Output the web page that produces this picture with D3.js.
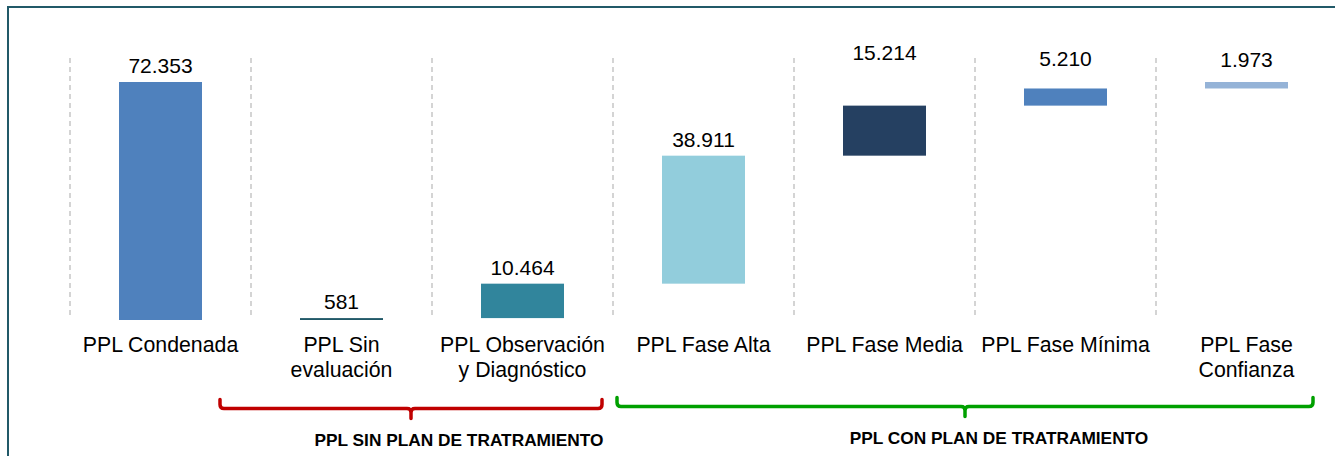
<!DOCTYPE html>
<html>
<head>
<meta charset="utf-8">
<script src="https://cdn.jsdelivr.net/npm/d3@7"></script>
<style>
  body { margin: 0; background: #fff; }
  svg { display: block; font-family: "Liberation Sans", Arial, sans-serif; }
</style>
</head>
<body>
<div id="chart"></div>
<script>
// categories (line breaks marked with \n)
var categories = ["PPL Condenada", "PPL Sin\nevaluación", "PPL Observación\ny Diagnóstico",
                  "PPL Fase Alta", "PPL Fase Media", "PPL Fase Mínima", "PPL Fase\nConfianza"];
var values = [72353, 581, 10464, 38911, 15214, 5210, 1973];
var barColors = ["#4f81bd", "#215968", "#31859c", "#92cddc", "#254061", "#4f81bd", "#95b3d7"];

// groups under the axis: first / last category index
var groupNames = ["PPL SIN PLAN DE TRATRAMIENTO", "PPL CON PLAN DE TRATRAMIENTO"];
var groupFrom = [1, 3];
var groupTo = [2, 6];
var groupColors = ["#c00000", "#00a000"];

var width = 1335, height = 456;

var svg = d3.select("#chart").append("svg")
    .attr("width", width)
    .attr("height", height);

// frame
svg.append("rect")
    .attr("x", 8).attr("y", 7)
    .attr("width", width + 20).attr("height", height + 20)
    .attr("fill", "none")
    .attr("stroke", "#215968")
    .attr("stroke-width", 2);

var x = d3.scaleBand().domain(categories).range([70, 1337]).padding(0),
    y = d3.scaleLinear().domain([0, d3.sum(values.slice(1))]).range([320, 82]);

// waterfall: first bar is the total, the rest stack up from zero
var bars = [], run = 0;
values.forEach(function(v, i) {
  if (i === 0) { bars.push({c: categories[i], v: v, y0: 0, y1: v}); }
  else { bars.push({c: categories[i], v: v, y0: run, y1: run + v}); run += v; }
});

var fmt = d3.formatLocale({decimal: ",", thousands: ".", grouping: [3], currency: ["", ""]}).format(",d");

var g = svg.append("g");

// dashed separators
g.selectAll(".sep")
    .data(categories)
    .enter().append("line")
    .attr("class", "sep")
    .attr("x1", function(d) { return x(d); })
    .attr("x2", function(d) { return x(d); })
    .attr("y1", 58).attr("y2", 318)
    .attr("stroke", "#d4d4d4")
    .attr("stroke-width", 2)
    .attr("stroke-dasharray", "5,4");

var barW = 83;

g.selectAll(".bar")
    .data(bars)
    .enter().append("rect")
    .attr("class", "bar")
    .attr("x", function(d) { return x(d.c) + (x.bandwidth() - barW) / 2; })
    .attr("y", function(d) { return y(d.y1); })
    .attr("width", barW)
    .attr("height", function(d) { return y(d.y0) - y(d.y1); })
    .attr("fill", function(d, i) { return barColors[i]; });

// value labels; the last three sit higher than their bars
var labelLift = [9, 9, 9, 9, 46, 22, 15];

g.selectAll(".val")
    .data(bars)
    .enter().append("text")
    .attr("class", "val")
    .attr("x", function(d) { return x(d.c) + x.bandwidth() / 2; })
    .attr("y", function(d, i) { return y(d.y1) - labelLift[i]; })
    .attr("text-anchor", "middle")
    .attr("font-size", 21)
    .attr("fill", "#000")
    .text(function(d) { return fmt(d.v); });

// category labels
var cat = g.selectAll(".cat")
    .data(categories)
    .enter().append("text")
    .attr("class", "cat")
    .attr("text-anchor", "middle")
    .attr("font-size", 21.3)
    .attr("fill", "#000");

cat.selectAll("tspan")
    .data(function(d) { return d.split("\n").map(function(t) { return {c: d, t: t}; }); })
    .enter().append("tspan")
    .attr("x", function(d) { return x(d.c) + x.bandwidth() / 2; })
    .attr("y", function(d, i) { return 352 + i * 25; })
    .text(function(d) { return d.t; });

// group braces
var braceStart = [-31, 4], braceEnd = [-11, -24];
var braceY = [408.5, 406.5];

groupNames.forEach(function(name, k) {
  var x0 = x(categories[groupFrom[k]]) + braceStart[k],
      x1 = x(categories[groupTo[k]]) + x.bandwidth() + braceEnd[k],
      xm = (x0 + x1) / 2,
      by = braceY[k], r = 4;
  var p = d3.path();
  p.moveTo(x0, by - 9);
  p.lineTo(x0, by - r);
  p.quadraticCurveTo(x0, by, x0 + r, by);
  p.lineTo(xm - r, by);
  p.quadraticCurveTo(xm, by, xm, by + r);
  p.lineTo(xm, by + 10);
  p.moveTo(xm, by + r);
  p.quadraticCurveTo(xm, by, xm + r, by);
  p.lineTo(x1 - r, by);
  p.quadraticCurveTo(x1, by, x1, by - r);
  p.lineTo(x1, by - 9);
  svg.append("path")
      .attr("d", p.toString())
      .attr("fill", "none")
      .attr("stroke", groupColors[k])
      .attr("stroke-width", 3.5)
      .attr("stroke-linecap", "round")
      .attr("stroke-linejoin", "round");
});

// group titles
var groupTextX = [459, 999], groupTextY = [446, 444];
svg.selectAll(".grp")
    .data(groupNames)
    .enter().append("text")
    .attr("class", "grp")
    .attr("x", function(d, i) { return groupTextX[i]; })
    .attr("y", function(d, i) { return groupTextY[i]; })
    .attr("text-anchor", "middle")
    .attr("font-size", 17.3)
    .attr("font-weight", "bold")
    .attr("fill", "#000")
    .text(function(d) { return d; });
</script>
</body>
</html>
